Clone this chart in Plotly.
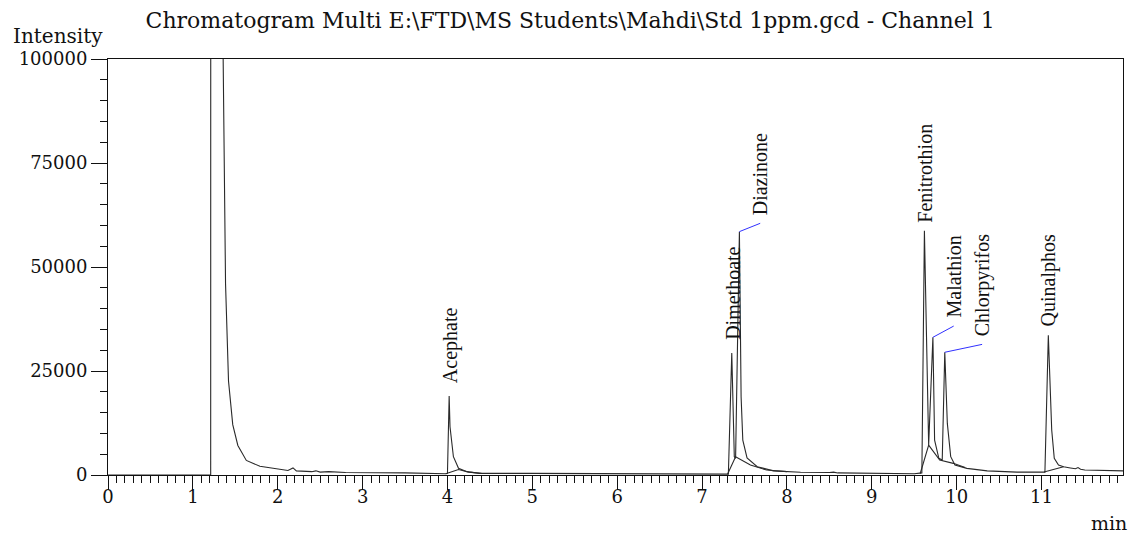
import plotly.graph_objects as go

# ---- data ----
signal_t = [0.0, 1.20, 1.21, 1.212, 1.35, 1.357, 1.385, 1.42, 1.47, 1.53, 1.63, 1.79, 1.99, 2.12, 2.18, 2.22,
            2.40, 2.45, 2.50, 2.60, 2.80, 3.00, 3.50, 3.98, 4.00, 4.02, 4.03, 4.07, 4.13, 4.23, 4.38,
            5.00, 6.00, 7.00, 7.31, 7.35, 7.38, 7.395, 7.44, 7.46, 7.48, 7.53, 7.65, 7.84, 8.16,
            8.50, 8.55, 8.60, 9.00, 9.50, 9.59, 9.62, 9.67, 9.72, 9.74, 9.79, 9.83, 9.86, 9.89,
            9.93, 9.98, 10.12, 10.36, 10.71, 11.04, 11.08, 11.12, 11.15, 11.20, 11.26, 11.34,
            11.40, 11.43, 11.46, 11.51, 11.70, 11.96]
signal_i = [0, 0, 0, 400000, 400000, 100000, 46000, 22600, 12100, 7100, 3500, 2100, 1400, 1100, 1700, 1000,
            800, 1000, 700, 800, 600, 600, 500, 300, 400, 19000, 11600, 4400, 1600, 800, 400,
            400, 300, 200, 200, 29300, 4400, 4000, 58500, 18800, 8400, 4100, 2000, 1000, 650,
            600, 700, 500, 400, 300, 500, 58700, 7200, 33100, 8400, 4000, 3600, 29500, 12400,
            4400, 2400, 1600, 1000, 700, 700, 33600, 10800, 4000, 2400, 2000, 1700,
            1500, 1800, 1400, 1200, 1100, 1000]

base_t = [3.98, 4.13, 4.25, 4.40, None, 7.30, 7.395, 7.57, 7.76, 8.00, None,
          9.57, 9.67, 9.80, 9.96, 10.10, None, 11.03, 11.26]
base_i = [300, 1300, 700, 400, None, 200, 4400, 2400, 1200, 800, None,
          300, 7200, 3600, 2800, 1800, None, 700, 2000]

peak_names = ["Acephate", "Dimethoate", "Diazinone", "Fenitrothion", "Malathion", "Chlorpyrifos", "Quinalphos"]
peak_t = [4.02, 7.35, 7.44, 9.62, 9.72, 9.86, 11.08]
peak_i = [19000, 29300, 58500, 58700, 33100, 29500, 33600]
label_t = [4.03, 7.37, 7.685, 9.63, 9.965, 10.30, 11.08]
label_i = [21600, 32000, 62000, 60100, 37300, 32900, 35300]
leader = [False, False, True, False, True, True, False]

y_ticks = [0, 25000, 50000, 75000, 100000]
x_ticks = list(range(0, 12))

title_text = r"Chromatogram Multi E:\FTD\MS Students\Mahdi\Std 1ppm.gcd - Channel 1"

# ---- figure ----
fig = go.Figure()
fig.add_trace(go.Scatter(x=signal_t, y=signal_i, mode="lines",
                         line=dict(color="#2a2a2a", width=1.1), showlegend=False, hoverinfo="skip"))
fig.add_trace(go.Scatter(x=base_t, y=base_i, mode="lines", connectgaps=False,
                         line=dict(color="#2a2a2a", width=1.1), showlegend=False, hoverinfo="skip"))

for name, pt, pi, lt, li, ld in zip(peak_names, peak_t, peak_i, label_t, label_i, leader):
    if ld:
        fig.add_trace(go.Scatter(x=[pt, lt], y=[pi, li - 1500], mode="lines",
                                 line=dict(color="#3030ff", width=1), showlegend=False, hoverinfo="skip"))
    fig.add_annotation(x=lt, y=li, xref="x", yref="y", text=name, textangle=-90,
                       showarrow=False, xanchor="center", yanchor="bottom",
                       font=dict(family="Liberation Serif", size=20, color="#111"))

serif = "DejaVu Serif"
fig.add_annotation(x=0, y=1, xref="paper", yref="paper", text="Intensity", showarrow=False,
                   xanchor="right", yanchor="bottom", xshift=-3, yshift=9,
                   font=dict(family=serif, size=20, color="#111"))
fig.add_annotation(x=1, y=0, xref="paper", yref="paper", text="min", showarrow=False,
                   xanchor="right", yanchor="middle", xshift=6, yshift=-48,
                   font=dict(family=serif, size=19, color="#111"))

fig.update_layout(
    width=1129, height=533,
    margin=dict(l=108, r=6, t=59, b=58, autoexpand=False),
    paper_bgcolor="white", plot_bgcolor="white",
    title=dict(text=title_text, x=0.505, xref="container", xanchor="center",
               y=0.962, yref="container", yanchor="middle", automargin=False,
               font=dict(family=serif, size=22, color="#111")),
    font=dict(family=serif, color="#111"),
)
fig.update_xaxes(range=[0, 11.96], tickvals=x_ticks, ticktext=[str(v) for v in x_ticks],
                 automargin=False, ticklabelstandoff=-9,
                 showgrid=False, zeroline=False, showline=True, linecolor="#111", linewidth=1, mirror=True,
                 ticks="outside", ticklen=14, tickcolor="#111", tickwidth=1,
                 tickfont=dict(family=serif, size=18, color="#111"),
                 minor=dict(dtick=0.1, tick0=0, ticks="outside", ticklen=7, tickcolor="#111", showgrid=False))
fig.update_yaxes(range=[0, 100000], tickvals=y_ticks, ticktext=[str(v) for v in y_ticks],
                 automargin=False,
                 showgrid=False, zeroline=False, showline=True, linecolor="#111", linewidth=1, mirror=True,
                 ticks="outside", ticklen=16, tickcolor="#111", tickwidth=1,
                 tickfont=dict(family=serif, size=18, color="#111"),
                 minor=dict(dtick=5000, tick0=0, ticks="outside", ticklen=7, tickcolor="#111", showgrid=False))

fig.write_html("out.html", config={"displayModeBar": False},
               post_script="document.body.style.margin='0';document.body.style.padding='0';")
